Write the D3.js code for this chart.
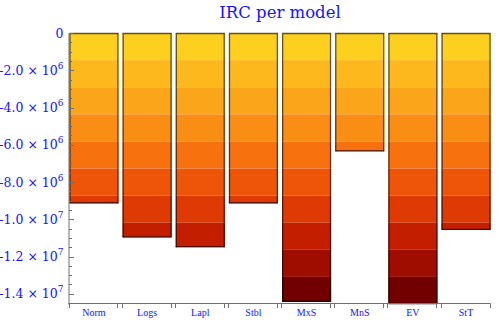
<!DOCTYPE html>
<html>
<head>
<meta charset="utf-8">
<script src="https://cdn.jsdelivr.net/npm/d3@7"></script>
<style>
  body { margin: 0; background: #fff; }
  svg { display: block; }
  text { font-family: "Liberation Serif", "DejaVu Serif", serif; fill: #1414ff; }
  .ser { font-family: "DejaVu Serif", serif; }
</style>
</head>
<body>
<svg id="chart" width="500" height="322"></svg>
<script>
const categories = ["Norm", "Logs", "Lapl", "Stbl", "MxS", "MnS", "EV", "StT"];
const values = [-9.14e6, -1.097e7, -1.150e7, -9.14e6, -1.443e7, -6.35e6, -1.455e7, -1.057e7];
const majorTicks = [0, -2e6, -4e6, -6e6, -8e6, -1e7, -1.2e7, -1.4e7];
const tickLabels = [["0", ""], ["-2.0 \u00d7 10", "6"], ["-4.0 \u00d7 10", "6"], ["-6.0 \u00d7 10", "6"],
                    ["-8.0 \u00d7 10", "6"], ["-1.0 \u00d7 10", "7"], ["-1.2 \u00d7 10", "7"], ["-1.4 \u00d7 10", "7"]];
const bandColors = ["#fdd020", "#fcb81d", "#fba61a", "#fa8e14", "#f7720f",
                    "#ef5509", "#df3904", "#c31e00", "#9f0d00", "#720000"];
const title = "IRC per model";

const svg = d3.select("#chart");
const pLeft = 69.5, pRight = 490.5, pTop = 33, pBottom = 304;
const minVal = d3.min(values);

const x = d3.scaleBand().domain(categories).range([pLeft, pRight]).paddingInner(0.08).paddingOuter(0);
const y = d3.scaleLinear().domain([0, minVal]).range([pTop, pBottom]);

// title
svg.append("text").attr("class", "ser").attr("x", (pLeft + pRight) / 2).attr("y", 18)
  .attr("text-anchor", "middle").style("font-size", "16.5px").text(title);

// bars split into colour bands
const nb = bandColors.length;
const bandStep = minVal / nb;
const g = svg.append("g");
categories.forEach((c, i) => {
  const v = values[i];
  const x0 = x(c), w = x.bandwidth();
  const segs = [];
  for (let k = 0; k < nb; k++) {
    const a = k * bandStep, b = Math.max((k + 1) * bandStep, v);
    if (a <= v) break;
    segs.push({ a, b, col: bandColors[k] });
  }
  segs.forEach(s => {
    g.append("rect").attr("x", x0).attr("width", w)
      .attr("y", y(s.a)).attr("height", y(s.b) - y(s.a)).attr("fill", s.col);
  });
  segs.forEach(s => {
    const edge = d3.color(s.col).darker(2.6).formatHex();
    g.append("line").attr("x1", x0 + 0.5).attr("x2", x0 + 0.5).attr("y1", y(s.a)).attr("y2", y(s.b))
      .attr("stroke", edge).attr("stroke-width", 1.3);
    g.append("line").attr("x1", x0 + w - 0.5).attr("x2", x0 + w - 0.5).attr("y1", y(s.a)).attr("y2", y(s.b))
      .attr("stroke", edge).attr("stroke-width", 1.3);
  });
  const first = segs[0], last = segs[segs.length - 1];
  g.append("line").attr("x1", x0).attr("x2", x0 + w).attr("y1", y(0) + 0.5).attr("y2", y(0) + 0.5)
    .attr("stroke", d3.color(first.col).darker(2.6).formatHex()).attr("stroke-width", 1.3);
  g.append("line").attr("x1", x0).attr("x2", x0 + w).attr("y1", y(v) - 0.5).attr("y2", y(v) - 0.5)
    .attr("stroke", d3.color(last.col).darker(2.6).formatHex()).attr("stroke-width", 1.3);
});

// y axis
const axisCol = "#707070";
const yAxis = svg.append("g");
yAxis.append("line").attr("x1", pLeft - 0.5).attr("x2", pLeft - 0.5).attr("y1", pTop).attr("y2", pBottom + 1)
  .attr("stroke", axisCol).attr("stroke-width", 1);
const minor = d3.range(0, 30).map(k => -k * 5e5).filter(t => t >= minVal);
minor.forEach(t => {
  const isMajor = majorTicks.includes(t);
  yAxis.append("line").attr("x1", pLeft - 0.5).attr("x2", pLeft + (isMajor ? 4.5 : 2.5))
    .attr("y1", Math.round(y(t)) + 0.5).attr("y2", Math.round(y(t)) + 0.5)
    .attr("stroke", axisCol).attr("stroke-width", 1);
});
majorTicks.forEach((t, i) => {
  const tx = yAxis.append("text").attr("class", "ser").attr("x", pLeft - 6).attr("y", y(t) + 4.5)
    .attr("text-anchor", "end").style("font-size", "12.5px");
  tx.append("tspan").text(tickLabels[i][0]);
  if (tickLabels[i][1]) {
    tx.append("tspan").attr("dy", -6).style("font-size", "9px").text(tickLabels[i][1]);
  }
});

// x axis
const xAxis = svg.append("g");
xAxis.append("line").attr("x1", pLeft - 1).attr("x2", pRight).attr("y1", pBottom - 0.5).attr("y2", pBottom - 0.5)
  .attr("stroke", axisCol).attr("stroke-width", 1);
categories.forEach(c => {
  [x(c), x(c) + x.bandwidth()].forEach(px => {
    xAxis.append("line").attr("x1", Math.round(px) - 0.5).attr("x2", Math.round(px) - 0.5)
      .attr("y1", pBottom - 0.5).attr("y2", pBottom + 4)
      .attr("stroke", axisCol).attr("stroke-width", 1);
  });
  xAxis.append("text").attr("x", x(c) + x.bandwidth() / 2).attr("y", 316)
    .attr("text-anchor", "middle").style("font-size", "10px").text(c);
});
</script>
</body>
</html>
